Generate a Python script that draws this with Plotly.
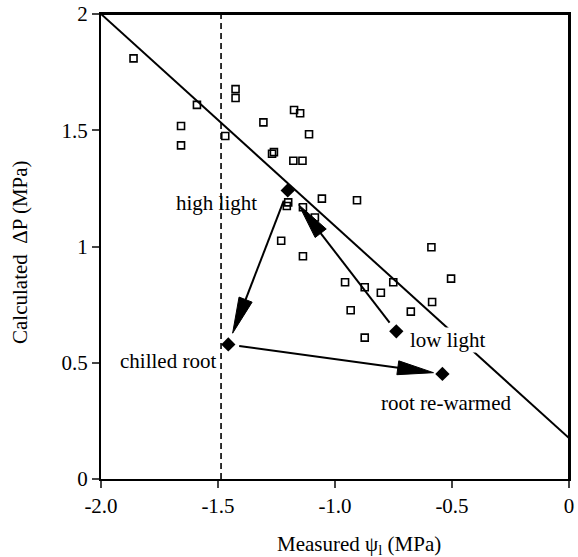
import numpy as np
import plotly.graph_objects as go

# open squares: measured psi_l vs calculated dP
psi_meas = [-1.861, -1.590, -1.658, -1.658, -1.425, -1.425, -1.469, -1.306, -1.261, -1.269,
            -1.175, -1.149, -1.111, -1.178, -1.139, -1.200, -1.206, -1.137, -1.056, -0.906,
            -1.086, -1.230, -1.137, -0.588, -0.504, -0.957, -0.873, -0.804, -0.751, -0.585,
            -0.933, -0.676, -0.873]
dp_calc = [1.809, 1.609, 1.518, 1.435, 1.677, 1.639, 1.475, 1.534, 1.406, 1.399,
           1.587, 1.573, 1.483, 1.369, 1.369, 1.190, 1.174, 1.169, 1.206, 1.199,
           1.125, 1.025, 0.958, 0.997, 0.862, 0.846, 0.825, 0.801, 0.846, 0.761,
           0.726, 0.720, 0.608]

# treatment means (filled diamonds)
treat_names = ["high light", "low light", "chilled root", "root re-warmed"]
treat_x = [-1.202, -0.738, -1.456, -0.541]
treat_y = [1.241, 0.635, 0.579, 0.452]

# 1:1 type line and dashed threshold
line_x = [-2.0, 0.0]
line_y = [2.0, 0.176]
psi_crit = -1.487

# arrows between treatments (from, to)
arrows = [("high light", "chilled root"), ("low light", "high light"), ("chilled root", "root re-warmed")]

xticks = [-2.0, -1.5, -1.0, -0.5, 0]
xticklab = ["-2.0", "-1.5", "-1.0", "-0.5", "0"]
yticks = [0, 0.5, 1, 1.5, 2]
yticklab = ["0", "0.5", "1", "1.5", "2"]

W, H = 578, 557
ml, mr, mt, mb = 101, 9, 14, 78
pw, ph = W - ml - mr, H - mt - mb
sx = pw / 2.0
sy = ph / 2.0
font = "Liberation Serif"
xr, yr = [-2.0, 0.0], [0.0, 2.0]

fig = go.Figure()
fig.add_trace(go.Scatter(x=line_x, y=line_y, mode="lines", line=dict(color="black", width=2), showlegend=False))
fig.add_trace(go.Scatter(x=psi_meas, y=dp_calc, mode="markers", showlegend=False,
                         marker=dict(symbol="square-open", size=7, color="black", line=dict(width=1.6))))
fig.add_trace(go.Scatter(x=treat_x, y=treat_y, mode="markers", showlegend=False,
                         marker=dict(symbol="diamond", size=11, color="black")))

fig.add_shape(type="line", x0=psi_crit, x1=psi_crit, y0=0, y1=2,
              line=dict(color="black", width=1.6, dash="6px,4px"))
# top and right frame
fig.add_shape(type="line", xref="x domain", yref="y domain", x0=0, x1=1, y0=1, y1=1,
              line=dict(color="black", width=2), layer="above")
fig.add_shape(type="line", xref="x domain", yref="y domain", x0=1, x1=1, y0=0, y1=1,
              line=dict(color="black", width=2), layer="above")

gaps = [(11, 12), (11, 18), (11, 9)]
head_len, head_w = 36, 7
pos = {n: (x, y) for n, x, y in zip(treat_names, treat_x, treat_y)}
for (a, b), (g0, g1) in zip(arrows, gaps):
    x0, y0 = pos[a][0] * sx, pos[a][1] * sy
    x1, y1 = pos[b][0] * sx, pos[b][1] * sy
    d = np.hypot(x1 - x0, y1 - y0)
    ux, uy = (x1 - x0) / d, (y1 - y0) / d
    sxp, syp = x0 + g0 * ux, y0 + g0 * uy
    tx, ty = x1 - g1 * ux, y1 - g1 * uy
    bx, by = tx - head_len * ux, ty - head_len * uy
    lx, ly = bx - head_w * uy, by + head_w * ux
    rx, ry = bx + head_w * uy, by - head_w * ux
    fig.add_shape(type="line", x0=sxp / sx, y0=syp / sy, x1=(bx + 4 * ux) / sx, y1=(by + 4 * uy) / sy,
                  line=dict(color="black", width=2))
    path = "M {} {} L {} {} L {} {} Z".format(tx / sx, ty / sy, lx / sx, ly / sy, rx / sx, ry / sy)
    fig.add_shape(type="path", path=path, fillcolor="black", line=dict(color="black", width=1))

label_pos = {
    "high light": dict(xanchor="right", xshift=-29, yshift=-13),
    "low light": dict(xanchor="left", xshift=13, yshift=-9, bgcolor="white", borderpad=0),
    "chilled root": dict(xanchor="right", xshift=-10, yshift=-17),
    "root re-warmed": dict(xanchor="center", xshift=4, yshift=-29),
}
for n in treat_names:
    fig.add_annotation(x=pos[n][0], y=pos[n][1], text=n, showarrow=False,
                       font=dict(family=font, size=21, color="black"), **label_pos[n])

# axis titles placed like the original
fig.add_annotation(x=(359 - ml) / pw, y=-(545 - (H - mb)) / ph, xref="paper", yref="paper",
                   text="Measured ψ<sub>l</sub> (MPa)", showarrow=False, yanchor="middle",
                   font=dict(family=font, size=21, color="black"))
fig.add_annotation(x=(20 - ml) / pw, y=1 - (252 - mt) / ph, xref="paper", yref="paper",
                   text="Calculated  ΔP (MPa)", textangle=-90, showarrow=False,
                   xanchor="center", yanchor="middle",
                   font=dict(family=font, size=21, color="black"))
fig.update_layout(
    template="none",
    width=W, height=H,
    margin=dict(l=ml, r=mr, t=mt, b=mb, autoexpand=False),
    plot_bgcolor="white", paper_bgcolor="white",
    font=dict(family=font, size=21, color="black"),
    xaxis=dict(range=xr, tickvals=xticks, ticktext=xticklab, ticks="outside", ticklen=7,
               tickwidth=1.5, showline=True, linecolor="black", linewidth=2, mirror=True,
               showgrid=False, zeroline=False, automargin=False, ticklabeloverflow="allow"),
    yaxis=dict(range=yr, tickvals=yticks, ticktext=yticklab, ticks="outside", ticklen=7,
               tickwidth=1.5, showline=True, linecolor="black", linewidth=2, mirror=True,
               showgrid=False, zeroline=False, automargin=False, ticklabeloverflow="allow"),
)
fig.write_html("out.html", config={"displayModeBar": False},
               post_script="document.body.style.margin='0px';document.body.style.overflow='hidden';")
